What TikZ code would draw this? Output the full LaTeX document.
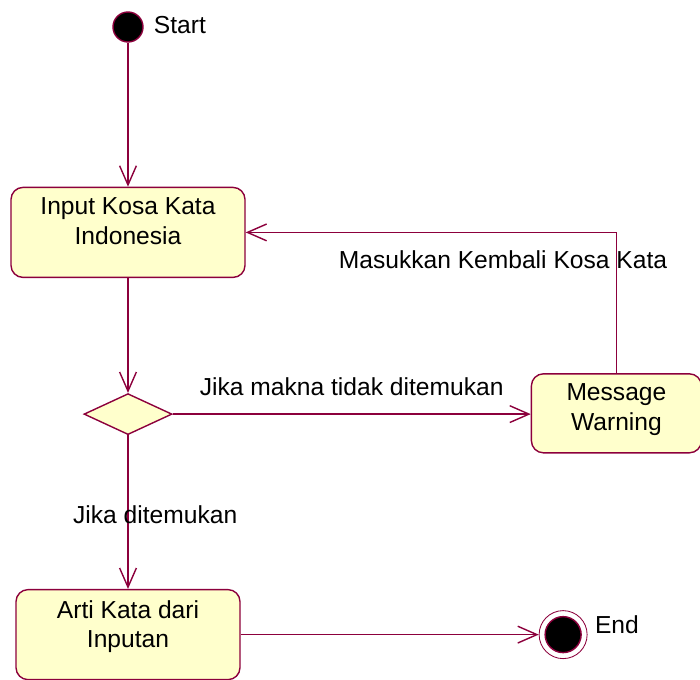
\documentclass[tikz,border=0pt]{standalone}
\usepackage{fontspec}
\setmainfont{Liberation Sans}
\usetikzlibrary{positioning,arrows.meta,shapes.geometric}

\definecolor{roseline}{RGB}{140,0,60}
\definecolor{rosefill}{RGB}{255,255,204}
\newcommand{\diagfont}{\fontsize{17.5}{21.3}\selectfont}

\begin{document}
\begin{tikzpicture}[
    node distance=1cm and 2cm,
    activity/.style={rectangle, rounded corners=0.3cm, draw=roseline, fill=rosefill, line width=1pt, minimum width=5.85cm, minimum height=2.25cm},
    acttext/.style={align=center, inner sep=0pt, font=\diagfont},
    decision/.style={diamond, draw=roseline, fill=rosefill, line width=1pt, minimum width=2.2cm, minimum height=1.025cm, inner sep=0pt},
    startstate/.style={circle, draw=roseline, fill=black, line width=1pt, minimum size=0.75cm, inner sep=0pt},
    endstate/.style={circle, draw=roseline, fill=white, line width=0.6pt, minimum size=1.2cm, inner sep=0pt},
    endcore/.style={circle, draw=roseline, fill=black, line width=1pt, minimum size=0.9cm, inner sep=0pt},
    arrow/.style={-{Straight Barb[length=4.8mm, width=4.2mm]}, draw=roseline, line width=1pt},
    guard/.style={font=\diagfont, inner sep=0pt}
]
\useasboundingbox (0,0) rectangle (17.5,-16.975);

% Start and first activity
\node[startstate] (start) at (3.2,-0.675) {};
\node[guard, right=0.25cm of start, yshift=0.05cm] (starttext) {Start};
\node[activity, below=3.6cm of start] (input) {};
\node[acttext, below=0.275cm of input.north] (inputtext) {Input Kosa Kata\\Indonesia};

% Decision and branches
\node[decision, below=2.87cm of input] (dec) {};
\node[activity, right=8.95cm of dec, minimum width=4.25cm, minimum height=1.975cm, yshift=0.02cm] (msg) {};
\node[acttext, below=0.25cm of msg.north] (msgtext) {Message\\Warning};
\node[activity, below=3.84cm of dec, minimum width=5.6cm] (arti) {};
\node[acttext, below=0.275cm of arti.north] (artitext) {Arti Kata dari\\Inputan};

% End state
\node[endstate, right=7.45cm of arti] (end) {};
\node[endcore] (endin) at (end) {};
\node[guard, right=0.18cm of end, yshift=0.25cm] (endtext) {End};

% Arrows
\draw[arrow] (start) -- (input);
\draw[arrow] (input) -- (dec);
\draw[arrow] (dec.east) -- (dec.east -| msg.west)
    node[guard, midway, above=0.45cm] (notfound) {Jika makna tidak ditemukan};
\draw[arrow] (msg.north) |- (input.east)
    node[guard, pos=0.653, below=0.45cm] (retry) {Masukkan Kembali Kosa Kata};
\draw[arrow] (dec) -- (arti)
    node[guard, midway, xshift=0.68cm, yshift=-0.06cm] (found) {Jika ditemukan};
\draw[arrow] (arti) -- (end);

\end{tikzpicture}
\end{document}
